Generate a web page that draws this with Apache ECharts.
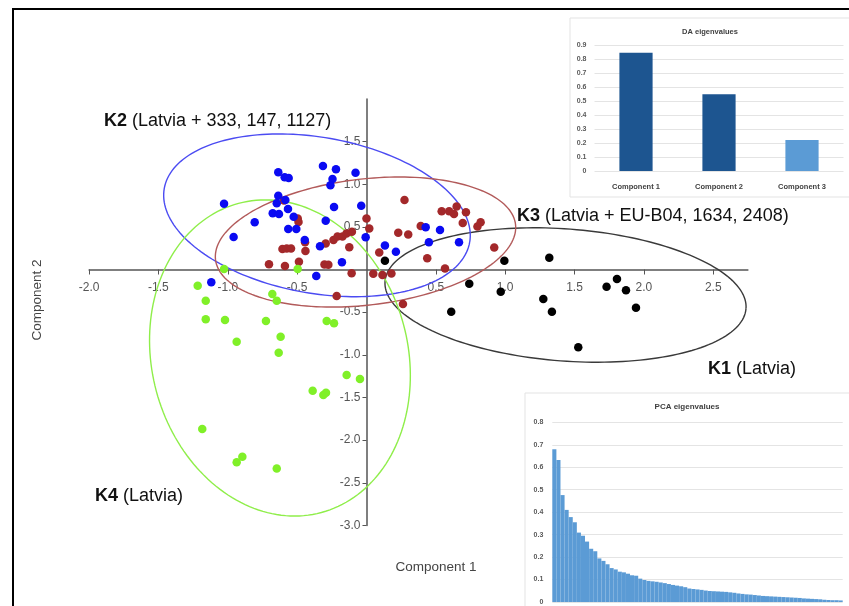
<!DOCTYPE html>
<html><head><meta charset="utf-8">
<script src="https://cdn.jsdelivr.net/npm/echarts@6/dist/echarts.min.js"></script>
<style>html,body{margin:0;padding:0;background:#fff}#c{width:849px;height:606px}</style>
</head><body><div id="c"></div>
<script>
// ---- Scatter data (Component 1, Component 2) ----
const k1Points = [[0.133,0.103],[0.994,0.103],[1.318,0.138],[0.741,-0.166],[0.968,-0.260],[1.275,-0.346],[1.731,-0.202],[1.806,-0.111],[1.871,-0.244],[1.943,-0.448],[0.611,-0.495],[1.337,-0.495],[1.527,-0.912]];
const k2Points = [[-1.027,0.771],[-0.958,0.381],[-0.806,0.553],[-0.636,1.139],[-0.590,1.081],[-0.561,1.073],[-0.636,0.865],[-0.647,0.776],[-0.585,0.815],[-0.676,0.659],[-0.631,0.651],[-0.566,0.709],[-0.525,0.619],[-0.564,0.475],[-0.506,0.475],[-0.445,0.346],[-0.314,1.213],[-0.220,1.174],[-0.245,1.061],[-0.260,0.987],[-0.079,1.134],[-0.234,0.733],[-0.038,0.748],[-0.294,0.572],[-0.006,0.377],[-0.335,0.272],[-0.177,0.085],[-0.362,-0.076],[0.133,0.280],[0.212,0.209],[-1.119,-0.150],[0.427,0.495],[0.530,0.463],[0.450,0.319],[0.667,0.319]];
const k3Points = [[-0.595,0.809],[-0.496,0.598],[-0.490,0.557],[-0.443,0.319],[-0.440,0.217],[-0.606,0.240],[-0.575,0.246],[-0.544,0.246],[-0.703,0.061],[-0.588,0.041],[-0.487,0.091],[-0.294,0.305],[-0.238,0.346],[-0.209,0.387],[-0.173,0.387],[-0.144,0.422],[-0.105,0.443],[-0.124,0.261],[-0.303,0.059],[-0.275,0.055],[-0.107,-0.045],[0.000,0.598],[0.020,0.481],[0.274,0.815],[0.542,0.682],[0.596,0.682],[0.631,0.651],[0.650,0.739],[0.717,0.671],[0.694,0.545],[0.800,0.504],[0.823,0.553],[0.229,0.431],[0.301,0.410],[0.391,0.510],[0.092,0.199],[0.438,0.131],[0.566,0.012],[0.921,0.258],[0.049,-0.050],[0.115,-0.064],[0.180,-0.047],[0.263,-0.404],[-0.215,-0.311]];
const k4Points = [[-1.027,0.006],[-0.496,0.006],[-1.217,-0.190],[-1.159,-0.366],[-0.679,-0.287],[-0.647,-0.366],[-1.159,-0.584],[-1.020,-0.592],[-0.725,-0.604],[-0.287,-0.604],[-0.234,-0.631],[-0.619,-0.788],[-0.936,-0.846],[-0.633,-0.975],[-0.143,-1.237],[-0.047,-1.284],[-0.388,-1.421],[-0.311,-1.471],[-0.292,-1.444],[-1.184,-1.870],[-0.895,-2.195],[-0.936,-2.260],[-0.647,-2.333]];

// ---- Cluster ellipses (data units; angle in degrees) ----
const ellipseNames = ['K1','K2','K3','K4'];
const ellipseCx = [1.435,-0.357,-0.007,-0.624];
const ellipseCy = [-0.299,0.635,0.322,-1.037];
const ellipseRx = [1.305,1.118,1.089,0.923];
const ellipseRy = [0.774,0.914,0.739,1.876];
const ellipseAngle = [4.3,10,-6.7,-15];

// ---- Cluster labels ----
const clusterTags = ['K2','K3','K1','K4'];
const clusterNotes = [' (Latvia + 333, 147, 1127)',' (Latvia + EU-B04, 1634, 2408)',' (Latvia)',' (Latvia)'];

// ---- Axis ticks ----
const xTickValues = [-2.0,-1.5,-1.0,-0.5,0.5,1.0,1.5,2.0,2.5];
const yTickValues = [-3.0,-2.5,-2.0,-1.5,-1.0,-0.5,0.5,1.0,1.5];

// ---- Insets ----
const daCategories = ['Component 1','Component 2','Component 3'];
const daValues = [0.845,0.548,0.221];
const pcaValues = [0.680,0.632,0.476,0.410,0.378,0.355,0.309,0.295,0.269,0.237,0.226,0.194,0.183,0.168,0.151,0.145,0.135,0.132,0.126,0.119,0.117,0.104,0.098,0.094,0.092,0.090,0.087,0.084,0.080,0.076,0.073,0.070,0.066,0.060,0.058,0.056,0.054,0.051,0.049,0.048,0.047,0.046,0.045,0.043,0.041,0.038,0.036,0.034,0.033,0.031,0.029,0.027,0.026,0.025,0.024,0.023,0.022,0.021,0.020,0.019,0.018,0.016,0.015,0.014,0.013,0.012,0.010,0.009,0.008,0.008,0.007];

const FONT = "'Liberation Sans', Arial, Helvetica, sans-serif";
const ellipseColors = ['#3a3a3a','#4b4bf2','#b25a5a','#8fee4a'];
const chart = echarts.init(document.getElementById('c'), null, {renderer:'canvas'});

// main grid geometry: x -2..2.75, y -3..2
const G = {left:89.1, right:101.1, top:98.9, bottom:80.6};
const gw = 849 - G.left - G.right, gh = 606 - G.top - G.bottom;
const xZeroOffset = -gw * (0 - (-2)) / (2.75 - (-2)); // move y axis to x=0
const yZeroOffset = -gh * (0 - (-3)) / (2 - (-3));    // move x axis to y=0

const ellipseData = ellipseNames.map((n,i)=>[ellipseCx[i],ellipseCy[i],ellipseRx[i],ellipseRy[i],ellipseAngle[i]]);
const labelPos = [[104,121],[517,216],[708,369],[95,496]];

const graphics = [
  {type:'rect', z:0, shape:{x:570,y:18,width:300,height:179}, style:{fill:'#fff',stroke:'#e3e3e3',lineWidth:1}},
  {type:'rect', z:0, shape:{x:525,y:393,width:340,height:240}, style:{fill:'#fff',stroke:'#e3e3e3',lineWidth:1}},
  {type:'rect', z:100, shape:{x:13,y:9,width:900,height:700}, style:{fill:'none',stroke:'#000',lineWidth:2}},
  {type:'text', z:100, x:436, y:567, style:{text:'Component 1', font:'13.5px '+FONT, fill:'#444', align:'center', verticalAlign:'middle'}},
  {type:'text', z:100, x:37, y:300, rotation:Math.PI/2, style:{text:'Component 2', font:'13.5px '+FONT, fill:'#444', align:'center', verticalAlign:'middle'}},
  {type:'text', z:100, x:710, y:32, style:{text:'DA eigenvalues', font:'bold 7.5px '+FONT, fill:'#404040', align:'center', verticalAlign:'middle'}},
  {type:'text', z:100, x:687, y:407, style:{text:'PCA eigenvalues', font:'bold 8px '+FONT, fill:'#404040', align:'center', verticalAlign:'middle'}}
];
clusterTags.forEach((t,i)=>{
  graphics.push({type:'text', z:100, x:labelPos[i][0], y:labelPos[i][1], style:{
    text:'{b|'+t+'}'+clusterNotes[i], font:'18px '+FONT, fill:'#111', align:'left', verticalAlign:'middle',
    rich:{b:{font:'bold 18px '+FONT, fill:'#111'}}
  }});
});

const option = {
  animation:false,
  backgroundColor:'#fff',
  grid:[
    {left:G.left, right:G.right, top:G.top, bottom:G.bottom},
    {left:594.5, right:5.5, top:45, bottom:435},
    {left:552.3, right:6.3, top:422.3, bottom:4}
  ],
  xAxis:[
    {gridIndex:0, type:'value', min:-2, max:2.75, position:'bottom', offset:yZeroOffset, splitLine:{show:false},
     axisLine:{onZero:false, lineStyle:{color:'#555', width:1.5}},
     axisTick:{show:true, length:5, lineStyle:{color:'#555'}, customValues:xTickValues},
     axisLabel:{margin:12, fontSize:12, fontFamily:FONT, color:'#555', customValues:xTickValues, formatter:v=>v.toFixed(1)}},
    {gridIndex:1, type:'category', data:daCategories, axisLine:{show:false}, axisTick:{show:false},
     axisLabel:{margin:12, fontSize:7.5, fontWeight:'bold', fontFamily:FONT, color:'#404040'}},
    {gridIndex:2, type:'category', data:pcaValues.map((v,i)=>String(i+1)), show:false}
  ],
  yAxis:[
    {gridIndex:0, type:'value', min:-3, max:2, position:'left', offset:xZeroOffset, splitLine:{show:false},
     axisLine:{onZero:false, lineStyle:{color:'#555', width:1.5}},
     axisTick:{show:true, length:4, lineStyle:{color:'#555'}, customValues:yTickValues},
     axisLabel:{margin:6, fontSize:12, fontFamily:FONT, color:'#555', customValues:yTickValues, formatter:v=>v.toFixed(1)}},
    {gridIndex:1, type:'value', min:0, max:0.9, interval:0.1, axisLine:{show:false}, axisTick:{show:false},
     splitLine:{lineStyle:{color:'#e4e4e4'}},
     axisLabel:{margin:8, fontSize:7, fontWeight:'bold', fontFamily:FONT, color:'#595959', formatter:v=>v===0?'0':v.toFixed(1)}},
    {gridIndex:2, type:'value', min:0, max:0.8, interval:0.1, axisLine:{show:false}, axisTick:{show:false},
     splitLine:{lineStyle:{color:'#e4e4e4'}},
     axisLabel:{margin:9, fontSize:7, fontWeight:'bold', fontFamily:FONT, color:'#595959', formatter:v=>v===0?'0':v.toFixed(1)}}
  ],
  series:[
    {type:'custom', xAxisIndex:0, yAxisIndex:0, z:1, clip:false, data:ellipseData,
     renderItem:function(params, api){
       const i = params.dataIndex;
       const c = api.coord([api.value(0), api.value(1)]);
       const s = api.size([api.value(2), api.value(3)]);
       const th = api.value(4)*Math.PI/180;
       const pts = [];
       for(let k=0;k<=180;k++){
         const t = 2*Math.PI*k/180;
         const x = s[0]*Math.cos(t), y = s[1]*Math.sin(t);
         pts.push([c[0]+x*Math.cos(th)-y*Math.sin(th), c[1]+x*Math.sin(th)+y*Math.cos(th)]);
       }
       return {type:'polyline', shape:{points:pts}, style:{fill:null, stroke:ellipseColors[i], lineWidth:1.4}};
     }},
    {type:'scatter', name:'K3', xAxisIndex:0, yAxisIndex:0, data:k3Points, symbolSize:8.5, itemStyle:{color:'#a3282a', opacity:1}, z:3},
    {type:'scatter', name:'K2', xAxisIndex:0, yAxisIndex:0, data:k2Points, symbolSize:8.5, itemStyle:{color:'#0a0af2', opacity:1}, z:4},
    {type:'scatter', name:'K4', xAxisIndex:0, yAxisIndex:0, data:k4Points, symbolSize:8.5, itemStyle:{color:'#80f028', opacity:1}, z:4},
    {type:'scatter', name:'K1', xAxisIndex:0, yAxisIndex:0, data:k1Points, symbolSize:8.5, itemStyle:{color:'#000', opacity:1}, z:4},
    {type:'bar', xAxisIndex:1, yAxisIndex:1, barWidth:'40%', z:5,
     data:daValues.map((v,i)=>({value:v, itemStyle:{color: i<2 ? '#1d5590' : '#5b9bd5'}}))},
    {type:'bar', xAxisIndex:2, yAxisIndex:2, barWidth:'100%', z:5, data:pcaValues, itemStyle:{color:'#5b9bd5'}}
  ],
  graphic:graphics
};
chart.setOption(option);
</script></body></html>
